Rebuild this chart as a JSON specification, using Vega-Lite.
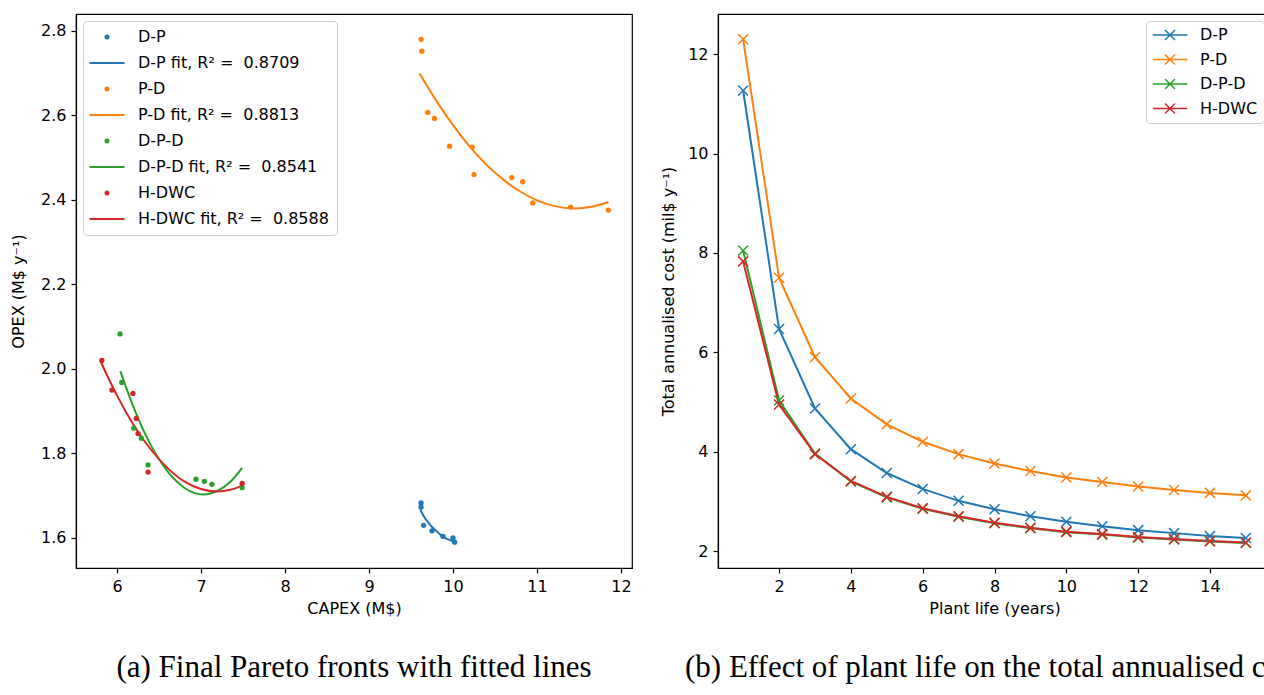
{
  "$schema": "https://vega.github.io/schema/vega-lite/v6.json",
  "background": "white",
  "padding": {"left": 9, "top": 13, "right": 0, "bottom": 0},
  "bounds": "flush",
  "spacing": 86,
  "datasets": {
    "pts": [
      {"series": "D-P", "capex": 9.62, "opex": 1.683},
      {"series": "D-P", "capex": 9.62, "opex": 1.673},
      {"series": "D-P", "capex": 9.65, "opex": 1.630},
      {"series": "D-P", "capex": 9.75, "opex": 1.617},
      {"series": "D-P", "capex": 9.88, "opex": 1.604},
      {"series": "D-P", "capex": 10.0, "opex": 1.600},
      {"series": "D-P", "capex": 10.02, "opex": 1.590},
      {"series": "P-D", "capex": 9.62, "opex": 2.780},
      {"series": "P-D", "capex": 9.63, "opex": 2.752},
      {"series": "P-D", "capex": 9.70, "opex": 2.607},
      {"series": "P-D", "capex": 9.78, "opex": 2.593},
      {"series": "P-D", "capex": 9.96, "opex": 2.527},
      {"series": "P-D", "capex": 10.23, "opex": 2.525},
      {"series": "P-D", "capex": 10.25, "opex": 2.460},
      {"series": "P-D", "capex": 10.70, "opex": 2.453},
      {"series": "P-D", "capex": 10.83, "opex": 2.443},
      {"series": "P-D", "capex": 10.95, "opex": 2.393},
      {"series": "P-D", "capex": 11.40, "opex": 2.383},
      {"series": "P-D", "capex": 11.85, "opex": 2.376},
      {"series": "D-P-D", "capex": 6.036, "opex": 2.083},
      {"series": "D-P-D", "capex": 6.056, "opex": 1.968},
      {"series": "D-P-D", "capex": 6.20, "opex": 1.860},
      {"series": "D-P-D", "capex": 6.29, "opex": 1.836},
      {"series": "D-P-D", "capex": 6.37, "opex": 1.773},
      {"series": "D-P-D", "capex": 6.94, "opex": 1.739},
      {"series": "D-P-D", "capex": 7.04, "opex": 1.734},
      {"series": "D-P-D", "capex": 7.13, "opex": 1.727},
      {"series": "D-P-D", "capex": 7.49, "opex": 1.719},
      {"series": "H-DWC", "capex": 5.82, "opex": 2.020},
      {"series": "H-DWC", "capex": 5.94, "opex": 1.950},
      {"series": "H-DWC", "capex": 6.19, "opex": 1.942},
      {"series": "H-DWC", "capex": 6.23, "opex": 1.883},
      {"series": "H-DWC", "capex": 6.25, "opex": 1.847},
      {"series": "H-DWC", "capex": 6.37, "opex": 1.756},
      {"series": "H-DWC", "capex": 7.49, "opex": 1.729}
    ],
    "fits": [
      {"series": "D-P fit, R² = \u00a00.8709", "capex": 9.61, "opex": 1.668},
      {"series": "D-P fit, R² = \u00a00.8709", "capex": 9.65, "opex": 1.652},
      {"series": "D-P fit, R² = \u00a00.8709", "capex": 9.70, "opex": 1.638},
      {"series": "D-P fit, R² = \u00a00.8709", "capex": 9.75, "opex": 1.626},
      {"series": "D-P fit, R² = \u00a00.8709", "capex": 9.80, "opex": 1.617},
      {"series": "D-P fit, R² = \u00a00.8709", "capex": 9.85, "opex": 1.608},
      {"series": "D-P fit, R² = \u00a00.8709", "capex": 9.90, "opex": 1.601},
      {"series": "D-P fit, R² = \u00a00.8709", "capex": 9.95, "opex": 1.596},
      {"series": "D-P fit, R² = \u00a00.8709", "capex": 10.00, "opex": 1.592},
      {"series": "D-P fit, R² = \u00a00.8709", "capex": 10.03, "opex": 1.590},
      {"series": "P-D fit, R² = \u00a00.8813", "capex": 9.60, "opex": 2.700},
      {"series": "P-D fit, R² = \u00a00.8813", "capex": 9.80, "opex": 2.635},
      {"series": "P-D fit, R² = \u00a00.8813", "capex": 10.00, "opex": 2.577},
      {"series": "P-D fit, R² = \u00a00.8813", "capex": 10.20, "opex": 2.526},
      {"series": "P-D fit, R² = \u00a00.8813", "capex": 10.40, "opex": 2.483},
      {"series": "P-D fit, R² = \u00a00.8813", "capex": 10.60, "opex": 2.448},
      {"series": "P-D fit, R² = \u00a00.8813", "capex": 10.80, "opex": 2.420},
      {"series": "P-D fit, R² = \u00a00.8813", "capex": 11.00, "opex": 2.399},
      {"series": "P-D fit, R² = \u00a00.8813", "capex": 11.20, "opex": 2.386},
      {"series": "P-D fit, R² = \u00a00.8813", "capex": 11.45, "opex": 2.380},
      {"series": "P-D fit, R² = \u00a00.8813", "capex": 11.65, "opex": 2.384},
      {"series": "P-D fit, R² = \u00a00.8813", "capex": 11.85, "opex": 2.395},
      {"series": "D-P-D fit, R² = \u00a00.8541", "capex": 6.04, "opex": 1.995},
      {"series": "D-P-D fit, R² = \u00a00.8541", "capex": 6.20, "opex": 1.908},
      {"series": "D-P-D fit, R² = \u00a00.8541", "capex": 6.40, "opex": 1.821},
      {"series": "D-P-D fit, R² = \u00a00.8541", "capex": 6.60, "opex": 1.758},
      {"series": "D-P-D fit, R² = \u00a00.8541", "capex": 6.80, "opex": 1.719},
      {"series": "D-P-D fit, R² = \u00a00.8541", "capex": 7.03, "opex": 1.703},
      {"series": "D-P-D fit, R² = \u00a00.8541", "capex": 7.20, "opex": 1.712},
      {"series": "D-P-D fit, R² = \u00a00.8541", "capex": 7.35, "opex": 1.733},
      {"series": "D-P-D fit, R² = \u00a00.8541", "capex": 7.49, "opex": 1.766},
      {"series": "H-DWC fit, R² = \u00a00.8588", "capex": 5.80, "opex": 2.020},
      {"series": "H-DWC fit, R² = \u00a00.8588", "capex": 6.00, "opex": 1.937},
      {"series": "H-DWC fit, R² = \u00a00.8588", "capex": 6.20, "opex": 1.867},
      {"series": "H-DWC fit, R² = \u00a00.8588", "capex": 6.40, "opex": 1.810},
      {"series": "H-DWC fit, R² = \u00a00.8588", "capex": 6.60, "opex": 1.766},
      {"series": "H-DWC fit, R² = \u00a00.8588", "capex": 6.80, "opex": 1.734},
      {"series": "H-DWC fit, R² = \u00a00.8588", "capex": 7.00, "opex": 1.716},
      {"series": "H-DWC fit, R² = \u00a00.8588", "capex": 7.19, "opex": 1.710},
      {"series": "H-DWC fit, R² = \u00a00.8588", "capex": 7.35, "opex": 1.714},
      {"series": "H-DWC fit, R² = \u00a00.8588", "capex": 7.49, "opex": 1.724}
    ],
    "life": [
      {"series": "D-P", "life": 1, "cost": 11.27}, {"series": "D-P", "life": 2, "cost": 6.47}, {"series": "D-P", "life": 3, "cost": 4.87},
      {"series": "D-P", "life": 4, "cost": 4.05}, {"series": "D-P", "life": 5, "cost": 3.57}, {"series": "D-P", "life": 6, "cost": 3.25},
      {"series": "D-P", "life": 7, "cost": 3.01}, {"series": "D-P", "life": 8, "cost": 2.84}, {"series": "D-P", "life": 9, "cost": 2.70},
      {"series": "D-P", "life": 10, "cost": 2.59}, {"series": "D-P", "life": 11, "cost": 2.50}, {"series": "D-P", "life": 12, "cost": 2.42},
      {"series": "D-P", "life": 13, "cost": 2.36}, {"series": "D-P", "life": 14, "cost": 2.30}, {"series": "D-P", "life": 15, "cost": 2.26},
      {"series": "P-D", "life": 1, "cost": 12.30}, {"series": "P-D", "life": 2, "cost": 7.50}, {"series": "P-D", "life": 3, "cost": 5.90},
      {"series": "P-D", "life": 4, "cost": 5.07}, {"series": "P-D", "life": 5, "cost": 4.55}, {"series": "P-D", "life": 6, "cost": 4.20},
      {"series": "P-D", "life": 7, "cost": 3.95}, {"series": "P-D", "life": 8, "cost": 3.76}, {"series": "P-D", "life": 9, "cost": 3.61},
      {"series": "P-D", "life": 10, "cost": 3.48}, {"series": "P-D", "life": 11, "cost": 3.39}, {"series": "P-D", "life": 12, "cost": 3.30},
      {"series": "P-D", "life": 13, "cost": 3.23}, {"series": "P-D", "life": 14, "cost": 3.17}, {"series": "P-D", "life": 15, "cost": 3.12},
      {"series": "D-P-D", "life": 1, "cost": 8.05}, {"series": "D-P-D", "life": 2, "cost": 5.03}, {"series": "D-P-D", "life": 3, "cost": 3.96},
      {"series": "D-P-D", "life": 4, "cost": 3.40}, {"series": "D-P-D", "life": 5, "cost": 3.08}, {"series": "D-P-D", "life": 6, "cost": 2.85},
      {"series": "D-P-D", "life": 7, "cost": 2.69}, {"series": "D-P-D", "life": 8, "cost": 2.56}, {"series": "D-P-D", "life": 9, "cost": 2.46},
      {"series": "D-P-D", "life": 10, "cost": 2.38}, {"series": "D-P-D", "life": 11, "cost": 2.33}, {"series": "D-P-D", "life": 12, "cost": 2.27},
      {"series": "D-P-D", "life": 13, "cost": 2.23}, {"series": "D-P-D", "life": 14, "cost": 2.19}, {"series": "D-P-D", "life": 15, "cost": 2.16},
      {"series": "H-DWC", "life": 1, "cost": 7.83}, {"series": "H-DWC", "life": 2, "cost": 4.95}, {"series": "H-DWC", "life": 3, "cost": 3.95},
      {"series": "H-DWC", "life": 4, "cost": 3.41}, {"series": "H-DWC", "life": 5, "cost": 3.09}, {"series": "H-DWC", "life": 6, "cost": 2.86},
      {"series": "H-DWC", "life": 7, "cost": 2.70}, {"series": "H-DWC", "life": 8, "cost": 2.57}, {"series": "H-DWC", "life": 9, "cost": 2.47},
      {"series": "H-DWC", "life": 10, "cost": 2.39}, {"series": "H-DWC", "life": 11, "cost": 2.34}, {"series": "H-DWC", "life": 12, "cost": 2.28},
      {"series": "H-DWC", "life": 13, "cost": 2.24}, {"series": "H-DWC", "life": 14, "cost": 2.20}, {"series": "H-DWC", "life": 15, "cost": 2.17}
    ]
  },
  "resolve": {
    "scale": {"x": "independent", "y": "independent", "color": "independent", "shape": "independent"},
    "legend": {"color": "independent", "shape": "independent"}
  },
  "hconcat": [
    {
      "width": 556,
      "height": 554,
      "title": {"text": "(a) Final Pareto fronts with fitted lines", "orient": "bottom", "anchor": "middle", "frame": "group", "font": "Liberation Serif", "fontSize": 31, "fontWeight": "normal", "color": "black", "offset": 37},
      "layer": [
        {
          "data": {"name": "fits"},
          "mark": {"type": "line", "strokeWidth": 2, "interpolate": "monotone"},
          "encoding": {
            "x": {"field": "capex", "type": "quantitative"},
            "y": {"field": "opex", "type": "quantitative"},
            "color": {"field": "series", "type": "nominal"}
          }
        },
        {
          "data": {"name": "pts"},
          "mark": {"type": "point", "filled": true, "size": 28, "opacity": 1},
          "encoding": {
            "x": {"field": "capex", "type": "quantitative", "title": "CAPEX (M$)",
              "scale": {"domain": [5.512, 12.131], "nice": false, "zero": false},
              "axis": {"values": [6, 7, 8, 9, 10, 11, 12], "format": "d"}},
            "y": {"field": "opex", "type": "quantitative", "title": "OPEX (M$ y⁻¹)",
              "scale": {"domain": [1.529, 2.840], "nice": false, "zero": false},
              "axis": {"values": [1.6, 1.8, 2.0, 2.2, 2.4, 2.6, 2.8], "format": ".1f", "minExtent": 36, "maxExtent": 36, "titlePadding": 14}},
            "color": {"field": "series", "type": "nominal",
              "scale": {"domain": ["D-P", "D-P fit, R² = \u00a00.8709", "P-D", "P-D fit, R² = \u00a00.8813", "D-P-D", "D-P-D fit, R² = \u00a00.8541", "H-DWC", "H-DWC fit, R² = \u00a00.8588"],
                        "range": ["#1f77b4", "#1f77b4", "#ff7f0e", "#ff7f0e", "#2ca02c", "#2ca02c", "#d62728", "#d62728"]},
              "legend": {"title": null, "orient": "top-left", "offset": 7, "padding": 8, "rowPadding": 10, "symbolSize": 9, "symbolStrokeWidth": 2, "symbolOffset": 8, "labelOffset": 23, "labelLimit": 400,
                "encode": {"symbols": {"update": {
                  "stroke": {"signal": "indexof(datum.value,'P-D')==0 ? '#ff7f0e' : indexof(datum.value,'D-P-D')==0 ? '#2ca02c' : indexof(datum.value,'H-DWC')==0 ? '#d62728' : '#1f77b4'"},
                  "fill": {"signal": "indexof(datum.value,'P-D')==0 ? '#ff7f0e' : indexof(datum.value,'D-P-D')==0 ? '#2ca02c' : indexof(datum.value,'H-DWC')==0 ? '#d62728' : '#1f77b4'"},
                  "strokeWidth": {"value": 2}}}}}},
            "shape": {"field": "series", "type": "nominal",
              "scale": {"domain": ["D-P", "D-P fit, R² = \u00a00.8709", "P-D", "P-D fit, R² = \u00a00.8813", "D-P-D", "D-P-D fit, R² = \u00a00.8541", "H-DWC", "H-DWC fit, R² = \u00a00.8588"],
                        "range": ["circle", "M-11.7,0L11.7,0", "circle", "M-11.7,0L11.7,0", "circle", "M-11.7,0L11.7,0", "circle", "M-11.7,0L11.7,0"]},
              "legend": {"title": null, "orient": "top-left", "offset": 7, "padding": 8, "rowPadding": 10, "symbolSize": 9, "symbolStrokeWidth": 2, "symbolOffset": 8, "labelOffset": 23, "labelLimit": 400}}
          }
        }
      ]
    },
    {
      "width": 553,
      "height": 554,
      "title": {"text": "(b) Effect of plant life on the total annualised cost", "orient": "bottom", "anchor": "start", "frame": "group", "dx": -33, "font": "Liberation Serif", "fontSize": 31, "fontWeight": "normal", "color": "black", "offset": 37},
      "data": {"name": "life"},
      "mark": {"type": "line", "strokeWidth": 2, "point": {"shape": "M-1,-1L1,1M-1,1L1,-1", "filled": false, "size": 100, "strokeWidth": 1.5}},
      "encoding": {
        "x": {"field": "life", "type": "quantitative", "title": "Plant life (years)",
          "scale": {"domain": [0.3, 15.7], "nice": false, "zero": false},
          "axis": {"values": [2, 4, 6, 8, 10, 12, 14], "format": "d"}},
        "y": {"field": "cost", "type": "quantitative", "title": "Total annualised cost (mil$ y⁻¹)",
          "scale": {"domain": [1.658, 12.81], "nice": false, "zero": false},
          "axis": {"values": [2, 4, 6, 8, 10, 12], "format": "d", "minExtent": 32, "maxExtent": 32, "titlePadding": 10}},
        "color": {"field": "series", "type": "nominal",
          "scale": {"domain": ["D-P", "P-D", "D-P-D", "H-DWC"], "range": ["#1f77b4", "#ff7f0e", "#2ca02c", "#d62728"]},
          "legend": {"title": null, "orient": "top-right", "offset": 7, "padding": 6, "rowPadding": 8.5,
            "symbolType": "M-3.45,0L3.45,0M-1,-1L1,1M-1,1L1,-1", "symbolSize": 100, "symbolStrokeWidth": 1.5, "symbolOffset": 10, "labelOffset": 22}}
      }
    }
  ],
  "config": {
    "font": "DejaVu Sans",
    "view": {"stroke": "black", "strokeWidth": 1.2},
    "axis": {
      "grid": false, "domainColor": "black", "domainWidth": 1.2, "tickColor": "black", "tickWidth": 1.2, "tickSize": 5,
      "labelFont": "DejaVu Sans", "labelFontSize": 16, "labelColor": "black", "labelPadding": 5,
      "titleFont": "DejaVu Sans", "titleFontSize": 16, "titleFontWeight": "normal", "titleColor": "black", "titlePadding": 6,
      "labelFlush": false
    },
    "legend": {
      "labelFont": "DejaVu Sans", "labelFontSize": 16, "labelColor": "black",
      "fillColor": "rgba(255,255,255,0.8)", "strokeColor": "#cccccc", "cornerRadius": 4
    }
  }
}
